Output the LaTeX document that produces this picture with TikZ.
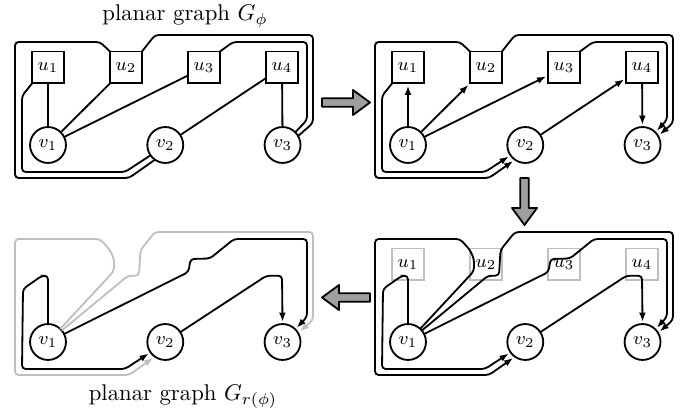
\documentclass[tikz,border=0pt]{standalone}
\usepackage{amsmath}
\usetikzlibrary{positioning,arrows.meta}
\tikzstyle{ubox}=[rectangle, draw=black, thick, minimum size=14pt, inner sep=0pt, outer sep=0pt, font=\footnotesize]
\tikzstyle{gbox}=[ubox, draw=gray!50]
\tikzstyle{vnode}=[circle, draw=black, thick, minimum size=15.8pt, inner sep=0pt, outer sep=0pt, font=\footnotesize]
\tikzstyle{pline}=[-, thick, rounded corners=1.6pt]
\tikzstyle{aline}=[pline, -{Latex[length=4pt,width=3pt]}, shorten >=1pt]
\tikzstyle{gline}=[aline, gray!50]
\tikzstyle{bigarrow}=[draw=black, thick, fill=gray!75, line join=round]
\begin{document}
\begin{tikzpicture}[x=0.44pt, y=-0.44pt, node distance=0pt]
\useasboundingbox (0,0) rectangle (694,418);
\node (TITLE) at (185,16) {planar graph $G_\phi$};
\node (RTITLE) at (183,397) {planar graph $G_{r(\phi)}$};
% planar graph
\node (AU1) [ubox] at (48,67.5) {$u_1$};
\node (AU2) [ubox, right=20.32pt of AU1] {$u_2$};
\node (AU3) [ubox, right=20.32pt of AU2] {$u_3$};
\node (AU4) [ubox, right=20.32pt of AU3] {$u_4$};
\node (AV1) [vnode, below=19.2pt of AU1] {$v_1$};
\node (AV2) [vnode, right=35.8pt of AV1] {$v_2$};
\node (AV3) [vnode, right=35.8pt of AV2] {$v_3$};
 \draw[pline] (AU1) -- (AV1);
 \draw[pline] (AU2) -- (AV1);
 \draw[pline] (AU3) -- (AV1);
 \draw[pline] (AU4) -- (AV2);
 \draw[pline] (AU4) -- (AV3);
 \draw[pline] (AU1.south west) -- (22,96) -- (22,172) -- (125,172) -- (AV2.215);
 \draw[pline] (AU2.north west) -- (100,42) -- (15,42) -- (15,178) -- (129,178) -- (AV2.235);
 \draw[pline] (AU2.north east) -- (155,35) -- (313,35) -- (313,123) -- (AV3.30);
 \draw[pline] (AU3.north east) -- (233,42) -- (307,42) -- (307,120) -- (AV3.45);
% oriented
\begin{scope}[shift={(360,0)}]
\node (BU1) [ubox] at (48,67.5) {$u_1$};
\node (BU2) [ubox, right=20.32pt of BU1] {$u_2$};
\node (BU3) [ubox, right=20.32pt of BU2] {$u_3$};
\node (BU4) [ubox, right=20.32pt of BU3] {$u_4$};
\node (BV1) [vnode, below=19.2pt of BU1] {$v_1$};
\node (BV2) [vnode, right=35.8pt of BV1] {$v_2$};
\node (BV3) [vnode, right=35.8pt of BV2] {$v_3$};
 \draw[aline] (BV1) -- (BU1);
 \draw[aline] (BV1) -- (BU2);
 \draw[aline] (BV1) -- (BU3);
 \draw[aline] (BV2) -- (BU4);
 \draw[aline] (BU4) -- (BV3);
 \draw[aline] (BU1.south west) -- (22,96) -- (22,172) -- (125,172) -- (BV2.215);
 \draw[aline] (BU2.north west) -- (100,42) -- (15,42) -- (15,178) -- (129,178) -- (BV2.235);
 \draw[aline] (BU2.north east) -- (155,35) -- (313,35) -- (313,123) -- (BV3.30);
 \draw[aline] (BU3.north east) -- (233,42) -- (307,42) -- (307,120) -- (BV3.45);
\end{scope}
% merged through u
\begin{scope}[shift={(360,197)}]
\node (CU1) [gbox] at (48,67.5) {$u_1$};
\node (CU2) [gbox, right=20.32pt of CU1] {$u_2$};
\node (CU3) [gbox, right=20.32pt of CU2] {$u_3$};
\node (CU4) [gbox, right=20.32pt of CU3] {$u_4$};
\node (CV1) [vnode, below=19.2pt of CU1] {$v_1$};
\node (CV2) [vnode, right=35.8pt of CV1] {$v_2$};
\node (CV3) [vnode, right=35.8pt of CV2] {$v_3$};
 \draw[aline] (CV1) -- (48,78.7) -- (42,78.7) -- (23,92) -- (22,172) -- (125,172) -- (CV2.215);
 \draw[aline] (CV1) -- (114,74) -- (114,62) -- (110,53) -- (100,42) -- (15,42) -- (15,178) -- (129,178) -- (CV2.235);
 \draw[aline] (CV1) -- (128,78.7) -- (139,78.7) -- (140.5,53) -- (155,35) -- (313,35) -- (313,123) -- (CV3.30);
 \draw[aline] (CV1) -- (188.5,75) -- (190.5,62) -- (210,61.5) -- (234,42) -- (307,42) -- (307,120) -- (CV3.45);
 \draw[aline] (CV2) -- (266.5,78.7) -- (282,78.7) -- (CV3.north);
\end{scope}
% reduced
\begin{scope}[shift={(0,197)}]
\node (DV1) [vnode] at (48,145) {$v_1$};
\node (DV2) [vnode, right=35.8pt of DV1] {$v_2$};
\node (DV3) [vnode, right=35.8pt of DV2] {$v_3$};
 \draw[gline] (DV1) -- (114,74) -- (114,62) -- (110,53) -- (100,42) -- (15,42) -- (15,178) -- (129,178) -- (DV2.235);
 \draw[gline] (DV1) -- (128,78.7) -- (139,78.7) -- (140.5,53) -- (155,35) -- (313,35) -- (313,123) -- (DV3.30);
 \draw[aline] (DV1) -- (48,78.7) -- (42,78.7) -- (23,92) -- (22,172) -- (125,172) -- (DV2.215);
 \draw[aline] (DV1) -- (188.5,75) -- (190.5,62) -- (210,61.5) -- (234,42) -- (307,42) -- (307,120) -- (DV3.45);
 \draw[aline] (DV2) -- (266.5,78.7) -- (282,78.7) -- (DV3.north);
\end{scope}
 \draw[bigarrow] (322,98.3) -- (353,98.3) -- (353,90) -- (370,102.5) -- (353,115) -- (353,106.7) -- (322,106.7) -- cycle;
 \draw[bigarrow] (520.3,178) -- (528.7,178) -- (528.7,208) -- (537,208) -- (524.5,225) -- (512,208) -- (520.3,208) -- cycle;
 \draw[bigarrow] (370,293.3) -- (339,293.3) -- (339,285) -- (322,297.5) -- (339,310) -- (339,301.7) -- (370,301.7) -- cycle;
\end{tikzpicture}
\end{document}
